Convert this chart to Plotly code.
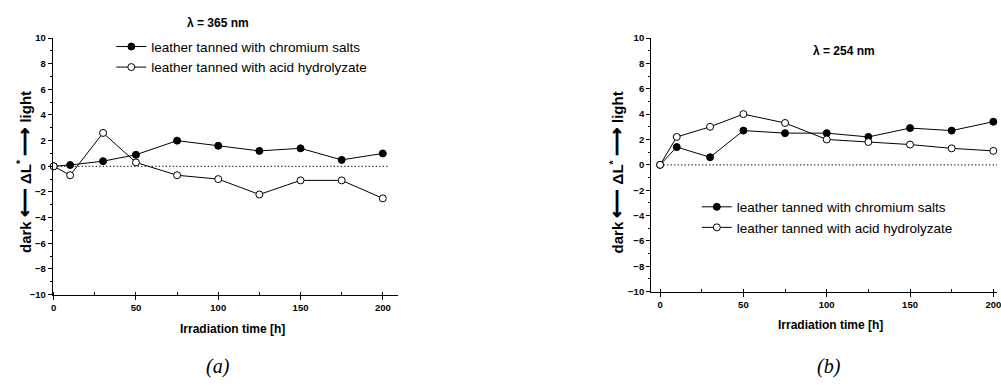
import plotly.graph_objects as go

# ---------------- data ----------------
time_h = [0, 10, 30, 50, 75, 100, 125, 150, 175, 200]
chromium_365 = [0, 0.1, 0.4, 0.9, 2.0, 1.6, 1.2, 1.4, 0.5, 1.0]
acid_365 = [0, -0.7, 2.6, 0.3, -0.7, -1.0, -2.2, -1.1, -1.1, -2.5]
chromium_254 = [0, 1.4, 0.6, 2.7, 2.5, 2.5, 2.2, 2.9, 2.7, 3.4]
acid_254 = [0, 2.2, 3.0, 4.0, 3.3, 2.0, 1.8, 1.6, 1.3, 1.1]
series_names = ["leather tanned with chromium salts",
                "leather tanned with acid hydrolyzate"]
panel_titles = ["λ = 365 nm", "λ = 254 nm"]
panel_labels = ["(a)", "(b)"]
x_ticks = [0, 50, 100, 150, 200]
y_ticks = list(range(-10, 11, 2))

W, H = 1001, 385
FONT = "Liberation Sans, Arial, sans-serif"


def px(x):
    return x / W


def py(y):
    return 1 - y / H


fig = go.Figure()

panels = [
    dict(xa="x", ya="y", leg="legend", chrom=chromium_365, acid=acid_365),
    dict(xa="x2", ya="y2", leg="legend2", chrom=chromium_254, acid=acid_254),
]

for p in panels:
    fig.add_trace(go.Scatter(
        x=time_h, y=p["chrom"], name=series_names[0], mode="lines+markers",
        xaxis=p["xa"], yaxis=p["ya"], legend=p["leg"], cliponaxis=False,
        line=dict(color="black", width=1),
        marker=dict(symbol="circle", size=7, color="black",
                    line=dict(color="black", width=1))))
    fig.add_trace(go.Scatter(
        x=time_h, y=p["acid"], name=series_names[1], mode="lines+markers",
        xaxis=p["xa"], yaxis=p["ya"], legend=p["leg"], cliponaxis=False,
        line=dict(color="black", width=1),
        marker=dict(symbol="circle", size=7, color="white",
                    line=dict(color="black", width=1))))

tickfont = dict(family=FONT, size=9.5, color="black", weight="bold")


def xaxis_cfg(domain, rng, anchor):
    return dict(domain=domain, range=rng, anchor=anchor, showline=True,
                linecolor="black", linewidth=1, ticks="outside", ticklen=4,
                tickcolor="black", tickvals=x_ticks, tickfont=tickfont,
                ticklabeloverflow="allow",
                showgrid=False, zeroline=False,
                minor=dict(ticks="inside", ticklen=3, dtick=25,
                           tick0=0, tickcolor="black", showgrid=False))


def yaxis_cfg(domain, anchor):
    return dict(domain=domain, range=[-10, 10], anchor=anchor, showline=True,
                linecolor="black", linewidth=1, ticks="outside", ticklen=4,
                tickcolor="black", tickvals=y_ticks, tickfont=tickfont,
                ticklabeloverflow="allow",
                showgrid=False, zeroline=False,
                minor=dict(ticks="outside", ticklen=2, dtick=1,
                           tick0=0, tickcolor="black", showgrid=False))


legend_common = dict(bgcolor="rgba(0,0,0,0)", borderwidth=0,
                     font=dict(family=FONT, size=13.5, color="black"),
                     xanchor="left", yanchor="top", tracegroupgap=0,
                     itemsizing="trace")

fig.update_layout(
    width=W, height=H, autosize=False,
    margin=dict(l=0, r=0, t=0, b=0),
    paper_bgcolor="white", plot_bgcolor="white",
    xaxis=xaxis_cfg([px(51), px(398)], [-0.6, 209], "y"),
    yaxis=yaxis_cfg([py(297), py(33)], "x"),
    xaxis2=xaxis_cfg([px(653), 1.0], [-5.4, 202.2], "y2"),
    yaxis2=yaxis_cfg([py(294), py(33)], "x2"),
    legend=dict(x=px(110), y=py(26), **legend_common),
    legend2=dict(x=px(699), y=py(191), **legend_common),
    showlegend=True,
)

# dotted zero lines
for xa, ya in [("x", "y"), ("x2", "y2")]:
    fig.add_shape(type="line", xref=xa, yref=ya, x0=0, x1=203, y0=0, y1=0,
                  line=dict(color="#333", width=1.3, dash="1.3px,2.2px"),
                  layer="below")

ann = []


def add_text(text, x, y, size, family=FONT, angle=0):
    ann.append(dict(text=text, x=px(x), y=py(y), xref="paper", yref="paper",
                    xanchor="center", yanchor="middle", showarrow=False,
                    textangle=angle,
                    font=dict(family=family, size=size, color="black")))


# panel titles
add_text("<b>" + panel_titles[0] + "</b>", 217, 18, 12)
add_text("<b>" + panel_titles[1] + "</b>", 847, 46, 12)
# y-axis titles
arrow_l = '<span style="font-size:20px">⟵</span>'
arrow_r = '<span style="font-size:20px">⟶</span>'
ylab = "<b>dark " + arrow_l + " ΔL<sup>*</sup> " + arrow_r + " light</b>"
add_text(ylab, 22, 171, 15, angle=-90)
add_text(ylab, 618, 171, 15, angle=-90)
# x-axis titles
add_text("<b>Irradiation time [h]</b>", 232, 333, 12)
add_text("<b>Irradiation time [h]</b>", 833, 328, 12)
# panel labels
add_text("<i>" + panel_labels[0] + "</i>", 217, 371, 20,
         family="Liberation Serif, Times New Roman, serif")
add_text("<i>" + panel_labels[1] + "</i>", 832, 371, 20,
         family="Liberation Serif, Times New Roman, serif")
fig.update_layout(annotations=ann)

fig.write_html("out.html", config={"displayModeBar": False},
               post_script="document.body.style.margin='0';"
                           "document.body.style.overflow='hidden';")
